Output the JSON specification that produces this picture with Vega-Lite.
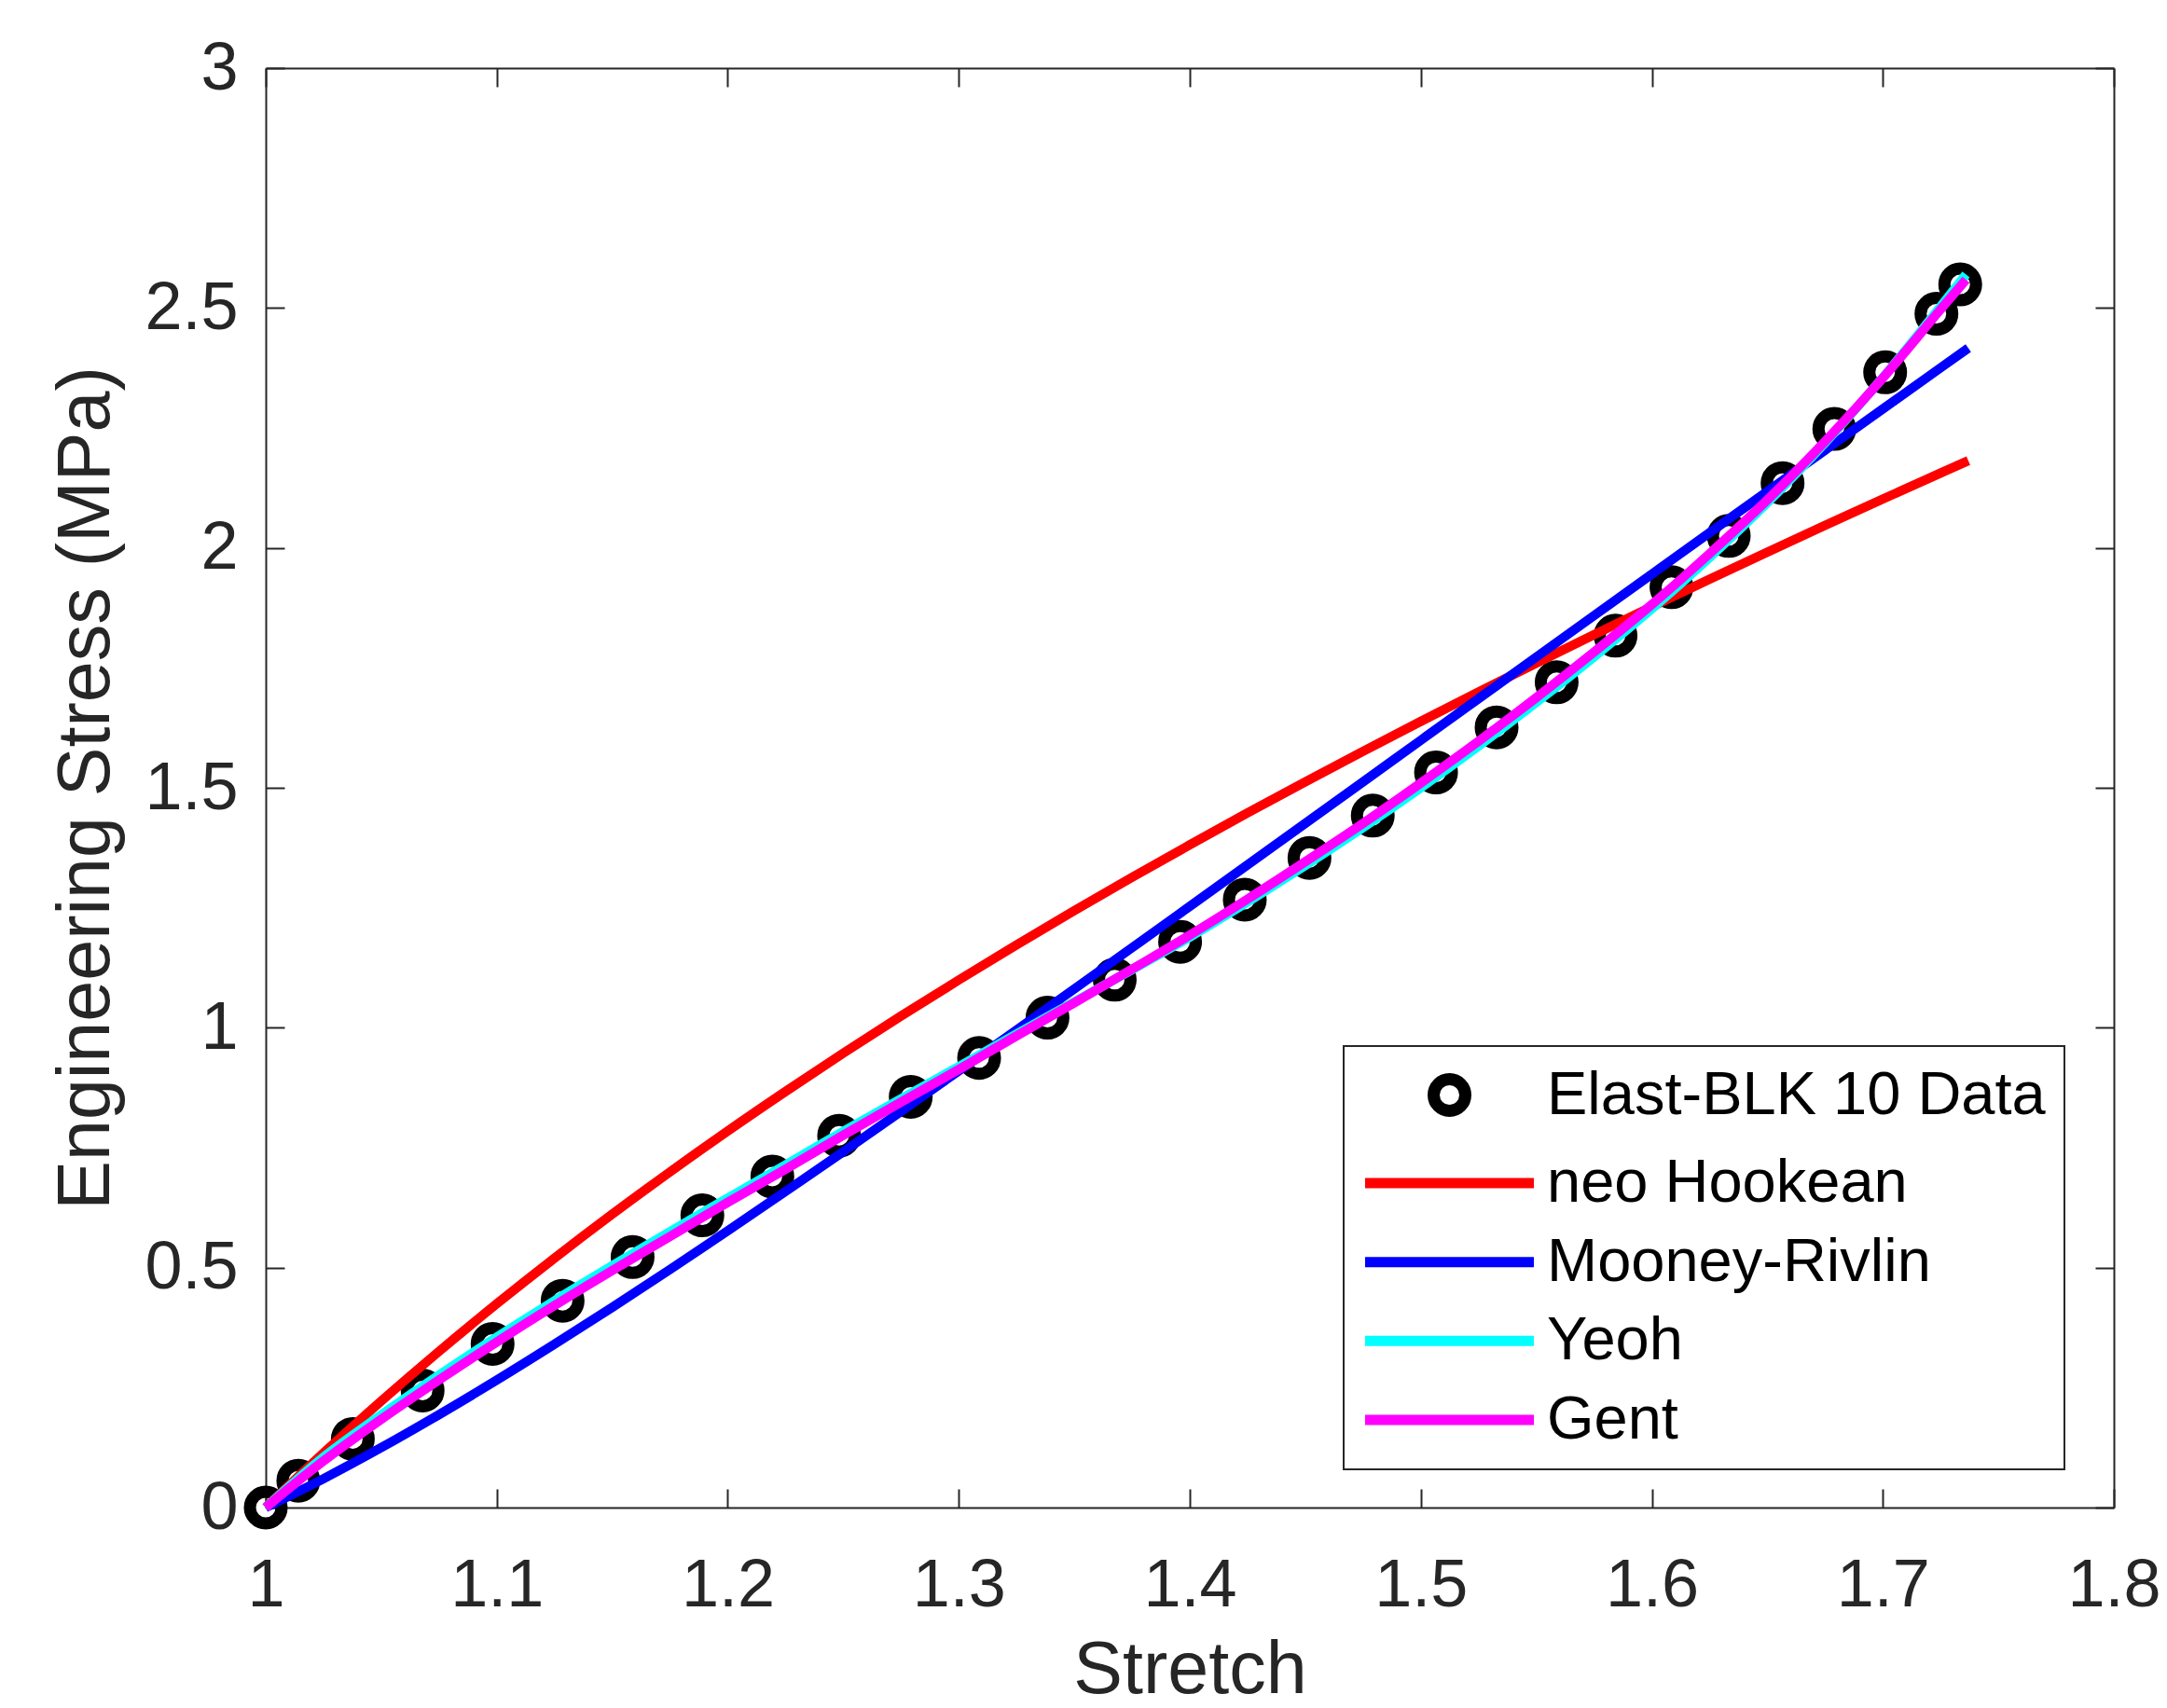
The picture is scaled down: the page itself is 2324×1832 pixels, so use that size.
{
  "$schema": "https://vega.github.io/schema/vega-lite/v6.json",
  "width": 1982,
  "height": 1544,
  "autosize": {"type": "none"},
  "padding": {"left": 285, "top": 73, "right": 57, "bottom": 215},
  "background": "white",
  "config": {
    "view": {"stroke": null},
    "font": "Liberation Sans",
    "legend": {"strokeWidth": 2}
  },
  "data": {
    "values": [
      {"series": "Elast-BLK 10 Data", "stretch": 1.0, "stress": 0},
      {"series": "Elast-BLK 10 Data", "stretch": 1.0141, "stress": 0.056},
      {"series": "Elast-BLK 10 Data", "stretch": 1.0377, "stress": 0.143},
      {"series": "Elast-BLK 10 Data", "stretch": 1.0679, "stress": 0.244},
      {"series": "Elast-BLK 10 Data", "stretch": 1.0982, "stress": 0.341},
      {"series": "Elast-BLK 10 Data", "stretch": 1.1285, "stress": 0.431},
      {"series": "Elast-BLK 10 Data", "stretch": 1.1588, "stress": 0.522},
      {"series": "Elast-BLK 10 Data", "stretch": 1.189, "stress": 0.609},
      {"series": "Elast-BLK 10 Data", "stretch": 1.2193, "stress": 0.69},
      {"series": "Elast-BLK 10 Data", "stretch": 1.2482, "stress": 0.775},
      {"series": "Elast-BLK 10 Data", "stretch": 1.2792, "stress": 0.856},
      {"series": "Elast-BLK 10 Data", "stretch": 1.3088, "stress": 0.937},
      {"series": "Elast-BLK 10 Data", "stretch": 1.3384, "stress": 1.021},
      {"series": "Elast-BLK 10 Data", "stretch": 1.3675, "stress": 1.1},
      {"series": "Elast-BLK 10 Data", "stretch": 1.3958, "stress": 1.179},
      {"series": "Elast-BLK 10 Data", "stretch": 1.4238, "stress": 1.267},
      {"series": "Elast-BLK 10 Data", "stretch": 1.4518, "stress": 1.354},
      {"series": "Elast-BLK 10 Data", "stretch": 1.4792, "stress": 1.442},
      {"series": "Elast-BLK 10 Data", "stretch": 1.5066, "stress": 1.532},
      {"series": "Elast-BLK 10 Data", "stretch": 1.5328, "stress": 1.626},
      {"series": "Elast-BLK 10 Data", "stretch": 1.5588, "stress": 1.72},
      {"series": "Elast-BLK 10 Data", "stretch": 1.5843, "stress": 1.817},
      {"series": "Elast-BLK 10 Data", "stretch": 1.6085, "stress": 1.918},
      {"series": "Elast-BLK 10 Data", "stretch": 1.6333, "stress": 2.025},
      {"series": "Elast-BLK 10 Data", "stretch": 1.6566, "stress": 2.135},
      {"series": "Elast-BLK 10 Data", "stretch": 1.679, "stress": 2.248},
      {"series": "Elast-BLK 10 Data", "stretch": 1.701, "stress": 2.366},
      {"series": "Elast-BLK 10 Data", "stretch": 1.7232, "stress": 2.488},
      {"series": "Elast-BLK 10 Data", "stretch": 1.7335, "stress": 2.549},

      {"series": "neo Hookean", "stretch": 1.0, "stress": 0},
      {"series": "neo Hookean", "stretch": 1.025, "stress": 0.1136},
      {"series": "neo Hookean", "stretch": 1.05, "stress": 0.2219},
      {"series": "neo Hookean", "stretch": 1.075, "stress": 0.3255},
      {"series": "neo Hookean", "stretch": 1.1, "stress": 0.4246},
      {"series": "neo Hookean", "stretch": 1.125, "stress": 0.5198},
      {"series": "neo Hookean", "stretch": 1.15, "stress": 0.6114},
      {"series": "neo Hookean", "stretch": 1.175, "stress": 0.6996},
      {"series": "neo Hookean", "stretch": 1.2, "stress": 0.7848},
      {"series": "neo Hookean", "stretch": 1.225, "stress": 0.8671},
      {"series": "neo Hookean", "stretch": 1.25, "stress": 0.9469},
      {"series": "neo Hookean", "stretch": 1.275, "stress": 1.0243},
      {"series": "neo Hookean", "stretch": 1.3, "stress": 1.0995},
      {"series": "neo Hookean", "stretch": 1.325, "stress": 1.1726},
      {"series": "neo Hookean", "stretch": 1.35, "stress": 1.2439},
      {"series": "neo Hookean", "stretch": 1.375, "stress": 1.3134},
      {"series": "neo Hookean", "stretch": 1.4, "stress": 1.3812},
      {"series": "neo Hookean", "stretch": 1.425, "stress": 1.4476},
      {"series": "neo Hookean", "stretch": 1.45, "stress": 1.5125},
      {"series": "neo Hookean", "stretch": 1.475, "stress": 1.5761},
      {"series": "neo Hookean", "stretch": 1.5, "stress": 1.6385},
      {"series": "neo Hookean", "stretch": 1.525, "stress": 1.6998},
      {"series": "neo Hookean", "stretch": 1.55, "stress": 1.76},
      {"series": "neo Hookean", "stretch": 1.575, "stress": 1.8191},
      {"series": "neo Hookean", "stretch": 1.6, "stress": 1.8773},
      {"series": "neo Hookean", "stretch": 1.625, "stress": 1.9346},
      {"series": "neo Hookean", "stretch": 1.65, "stress": 1.9911},
      {"series": "neo Hookean", "stretch": 1.675, "stress": 2.0468},
      {"series": "neo Hookean", "stretch": 1.7, "stress": 2.1018},
      {"series": "neo Hookean", "stretch": 1.725, "stress": 2.156},
      {"series": "neo Hookean", "stretch": 1.737, "stress": 2.1818},

      {"series": "Mooney-Rivlin", "stretch": 1.0, "stress": 0},
      {"series": "Mooney-Rivlin", "stretch": 1.025, "stress": 0.0601},
      {"series": "Mooney-Rivlin", "stretch": 1.05, "stress": 0.1249},
      {"series": "Mooney-Rivlin", "stretch": 1.075, "stress": 0.1937},
      {"series": "Mooney-Rivlin", "stretch": 1.1, "stress": 0.2656},
      {"series": "Mooney-Rivlin", "stretch": 1.125, "stress": 0.3404},
      {"series": "Mooney-Rivlin", "stretch": 1.15, "stress": 0.4174},
      {"series": "Mooney-Rivlin", "stretch": 1.175, "stress": 0.4963},
      {"series": "Mooney-Rivlin", "stretch": 1.2, "stress": 0.5768},
      {"series": "Mooney-Rivlin", "stretch": 1.225, "stress": 0.6587},
      {"series": "Mooney-Rivlin", "stretch": 1.25, "stress": 0.7416},
      {"series": "Mooney-Rivlin", "stretch": 1.275, "stress": 0.8255},
      {"series": "Mooney-Rivlin", "stretch": 1.3, "stress": 0.91},
      {"series": "Mooney-Rivlin", "stretch": 1.325, "stress": 0.9952},
      {"series": "Mooney-Rivlin", "stretch": 1.35, "stress": 1.0808},
      {"series": "Mooney-Rivlin", "stretch": 1.375, "stress": 1.1667},
      {"series": "Mooney-Rivlin", "stretch": 1.4, "stress": 1.253},
      {"series": "Mooney-Rivlin", "stretch": 1.425, "stress": 1.3394},
      {"series": "Mooney-Rivlin", "stretch": 1.45, "stress": 1.4259},
      {"series": "Mooney-Rivlin", "stretch": 1.475, "stress": 1.5125},
      {"series": "Mooney-Rivlin", "stretch": 1.5, "stress": 1.5992},
      {"series": "Mooney-Rivlin", "stretch": 1.525, "stress": 1.6858},
      {"series": "Mooney-Rivlin", "stretch": 1.55, "stress": 1.7724},
      {"series": "Mooney-Rivlin", "stretch": 1.575, "stress": 1.8589},
      {"series": "Mooney-Rivlin", "stretch": 1.6, "stress": 1.9453},
      {"series": "Mooney-Rivlin", "stretch": 1.625, "stress": 2.0316},
      {"series": "Mooney-Rivlin", "stretch": 1.65, "stress": 2.1177},
      {"series": "Mooney-Rivlin", "stretch": 1.675, "stress": 2.2037},
      {"series": "Mooney-Rivlin", "stretch": 1.7, "stress": 2.2896},
      {"series": "Mooney-Rivlin", "stretch": 1.725, "stress": 2.3753},
      {"series": "Mooney-Rivlin", "stretch": 1.737, "stress": 2.4163},

      {"series": "Yeoh", "stretch": 1.0, "stress": 0},
      {"series": "Yeoh", "stretch": 1.025, "stress": 0.105},
      {"series": "Yeoh", "stretch": 1.05, "stress": 0.193},
      {"series": "Yeoh", "stretch": 1.075, "stress": 0.276},
      {"series": "Yeoh", "stretch": 1.1, "stress": 0.355},
      {"series": "Yeoh", "stretch": 1.125, "stress": 0.431},
      {"series": "Yeoh", "stretch": 1.15, "stress": 0.504},
      {"series": "Yeoh", "stretch": 1.175, "stress": 0.575},
      {"series": "Yeoh", "stretch": 1.2, "stress": 0.645},
      {"series": "Yeoh", "stretch": 1.225, "stress": 0.714},
      {"series": "Yeoh", "stretch": 1.25, "stress": 0.784},
      {"series": "Yeoh", "stretch": 1.275, "stress": 0.852},
      {"series": "Yeoh", "stretch": 1.3, "stress": 0.919},
      {"series": "Yeoh", "stretch": 1.325, "stress": 0.987},
      {"series": "Yeoh", "stretch": 1.35, "stress": 1.054},
      {"series": "Yeoh", "stretch": 1.375, "stress": 1.121},
      {"series": "Yeoh", "stretch": 1.4, "stress": 1.189},
      {"series": "Yeoh", "stretch": 1.425, "stress": 1.262},
      {"series": "Yeoh", "stretch": 1.45, "stress": 1.338},
      {"series": "Yeoh", "stretch": 1.475, "stress": 1.417},
      {"series": "Yeoh", "stretch": 1.5, "stress": 1.5},
      {"series": "Yeoh", "stretch": 1.525, "stress": 1.587},
      {"series": "Yeoh", "stretch": 1.55, "stress": 1.678},
      {"series": "Yeoh", "stretch": 1.575, "stress": 1.773},
      {"series": "Yeoh", "stretch": 1.6, "stress": 1.873},
      {"series": "Yeoh", "stretch": 1.625, "stress": 1.98},
      {"series": "Yeoh", "stretch": 1.65, "stress": 2.094},
      {"series": "Yeoh", "stretch": 1.675, "stress": 2.219},
      {"series": "Yeoh", "stretch": 1.7, "stress": 2.355},
      {"series": "Yeoh", "stretch": 1.725, "stress": 2.503},
      {"series": "Yeoh", "stretch": 1.736, "stress": 2.57},

      {"series": "Gent", "stretch": 1.0, "stress": 0},
      {"series": "Gent", "stretch": 1.025, "stress": 0.097},
      {"series": "Gent", "stretch": 1.05, "stress": 0.184},
      {"series": "Gent", "stretch": 1.075, "stress": 0.266},
      {"series": "Gent", "stretch": 1.1, "stress": 0.345},
      {"series": "Gent", "stretch": 1.125, "stress": 0.421},
      {"series": "Gent", "stretch": 1.15, "stress": 0.494},
      {"series": "Gent", "stretch": 1.175, "stress": 0.565},
      {"series": "Gent", "stretch": 1.2, "stress": 0.636},
      {"series": "Gent", "stretch": 1.225, "stress": 0.705},
      {"series": "Gent", "stretch": 1.25, "stress": 0.776},
      {"series": "Gent", "stretch": 1.275, "stress": 0.845},
      {"series": "Gent", "stretch": 1.3, "stress": 0.913},
      {"series": "Gent", "stretch": 1.325, "stress": 0.983},
      {"series": "Gent", "stretch": 1.35, "stress": 1.052},
      {"series": "Gent", "stretch": 1.375, "stress": 1.122},
      {"series": "Gent", "stretch": 1.4, "stress": 1.193},
      {"series": "Gent", "stretch": 1.425, "stress": 1.268},
      {"series": "Gent", "stretch": 1.45, "stress": 1.346},
      {"series": "Gent", "stretch": 1.475, "stress": 1.426},
      {"series": "Gent", "stretch": 1.5, "stress": 1.51},
      {"series": "Gent", "stretch": 1.525, "stress": 1.597},
      {"series": "Gent", "stretch": 1.55, "stress": 1.688},
      {"series": "Gent", "stretch": 1.575, "stress": 1.783},
      {"series": "Gent", "stretch": 1.6, "stress": 1.882},
      {"series": "Gent", "stretch": 1.625, "stress": 1.988},
      {"series": "Gent", "stretch": 1.65, "stress": 2.1},
      {"series": "Gent", "stretch": 1.675, "stress": 2.222},
      {"series": "Gent", "stretch": 1.7, "stress": 2.354},
      {"series": "Gent", "stretch": 1.725, "stress": 2.497},
      {"series": "Gent", "stretch": 1.736, "stress": 2.559}
    ]
  },
  "encoding": {
    "color": {
      "field": "series",
      "type": "nominal",
      "scale": {
        "domain": ["Elast-BLK 10 Data", "neo Hookean", "Mooney-Rivlin", "Yeoh", "Gent"],
        "range": ["#000000", "#ff0000", "#0000ff", "#00ffff", "#ff00ff"]
      },
      "legend": {
        "title": null,
        "orient": "none",
        "legendX": 1156,
        "legendY": 1049,
        "direction": "vertical",
        "padding": 20,
        "strokeColor": "#262626",
        "fillColor": "white",
        "labelFont": "Liberation Sans",
        "labelFontSize": 65,
        "labelColor": "#000000",
        "labelLimit": 0,
        "labelOffset": 72,
        "symbolOffset": 61,
        "rowPadding": 18.6,
        "symbolSize": 32761,
        "symbolStrokeWidth": 11,
        "encode": {
          "symbols": {
            "update": {
              "shape": {"signal": "datum.value === 'Elast-BLK 10 Data' ? 'circle' : 'stroke'"},
              "size": {"signal": "datum.value === 'Elast-BLK 10 Data' ? 1156 : 32761"},
              "strokeWidth": {"signal": "datum.value === 'Elast-BLK 10 Data' ? 13 : 11"},
              "fill": {"value": "transparent"},
              "stroke": {"scale": "color", "field": "value"},
              "opacity": {"value": 1}
            }
          }
        }
      }
    }
  },
  "layer": [
    {
      "transform": [{"filter": "datum.series === 'Elast-BLK 10 Data'"}],
      "mark": {"type": "point", "shape": "circle", "filled": false, "size": 1156, "strokeWidth": 13, "opacity": 1},
      "encoding": {
        "x": {
          "field": "stretch", "type": "quantitative",
          "scale": {"domain": [1, 1.8], "nice": false, "zero": false},
          "axis": {
            "orient": "bottom",
            "values": [1, 1.1, 1.2, 1.3, 1.4, 1.5, 1.6, 1.7, 1.8],
            "format": "~g",
            "grid": false,
            "labelFont": "Liberation Sans",
            "labelFontSize": 72,
            "labelColor": "#262626",
            "labelBaseline": "alphabetic",
            "labelPadding": 125,
            "labelFlush": false,
            "labelOverlap": false,
            "labelBound": false,
            "tickSize": -20,
            "tickWidth": 2,
            "tickColor": "#262626",
            "domainColor": "#262626",
            "domainWidth": 2,
            "title": "Stretch",
            "titleFont": "Liberation Sans",
            "titleFontSize": 79,
            "titleFontWeight": "normal",
            "titleColor": "#262626",
            "titleBaseline": "alphabetic",
            "titleY": 198
          }
        },
        "y": {
          "field": "stress", "type": "quantitative",
          "scale": {"domain": [0, 3], "nice": false},
          "axis": {
            "orient": "left",
            "values": [0, 0.5, 1, 1.5, 2, 2.5, 3],
            "format": "~g",
            "grid": false,
            "labelFont": "Liberation Sans",
            "labelFontSize": 72,
            "labelColor": "#262626",
            "labelPadding": 50,
            "labelFlush": false,
            "labelOverlap": false,
            "labelBound": false,
            "tickSize": -20,
            "tickWidth": 2,
            "tickColor": "#262626",
            "domainColor": "#262626",
            "domainWidth": 2,
            "title": "Engineering Stress (MPa)",
            "titleFont": "Liberation Sans",
            "titleFontSize": 79,
            "titleFontWeight": "normal",
            "titleColor": "#262626",
            "titleBaseline": "alphabetic",
            "titleX": -169
          }
        }
      }
    },
    {
      "transform": [{"filter": "datum.series === 'neo Hookean'"}],
      "mark": {"type": "line", "strokeWidth": 10, "interpolate": "monotone"},
      "encoding": {
        "x": {
          "field": "stretch", "type": "quantitative",
          "scale": {"domain": [1, 1.8], "nice": false, "zero": false},
          "axis": {
            "orient": "top",
            "values": [1, 1.1, 1.2, 1.3, 1.4, 1.5, 1.6, 1.7, 1.8],
            "labels": false,
            "title": null,
            "grid": false,
            "tickSize": -20,
            "tickWidth": 2,
            "tickColor": "#262626",
            "domainColor": "#262626",
            "domainWidth": 2
          }
        },
        "y": {
          "field": "stress", "type": "quantitative",
          "scale": {"domain": [0, 3], "nice": false},
          "axis": {
            "orient": "right",
            "values": [0, 0.5, 1, 1.5, 2, 2.5, 3],
            "labels": false,
            "title": null,
            "grid": false,
            "tickSize": -20,
            "tickWidth": 2,
            "tickColor": "#262626",
            "domainColor": "#262626",
            "domainWidth": 2
          }
        }
      }
    },
    {
      "transform": [{"filter": "datum.series === 'Mooney-Rivlin'"}],
      "mark": {"type": "line", "strokeWidth": 10, "interpolate": "monotone"},
      "encoding": {
        "x": {"field": "stretch", "type": "quantitative", "axis": null},
        "y": {"field": "stress", "type": "quantitative", "axis": null}
      }
    },
    {
      "transform": [{"filter": "datum.series === 'Yeoh'"}],
      "mark": {"type": "line", "strokeWidth": 10, "interpolate": "monotone"},
      "encoding": {
        "x": {"field": "stretch", "type": "quantitative", "axis": null},
        "y": {"field": "stress", "type": "quantitative", "axis": null}
      }
    },
    {
      "transform": [{"filter": "datum.series === 'Gent'"}],
      "mark": {"type": "line", "strokeWidth": 10, "interpolate": "monotone"},
      "encoding": {
        "x": {"field": "stretch", "type": "quantitative", "axis": null},
        "y": {"field": "stress", "type": "quantitative", "axis": null}
      }
    }
  ],
  "resolve": {"axis": {"x": "independent", "y": "independent"}}
}
